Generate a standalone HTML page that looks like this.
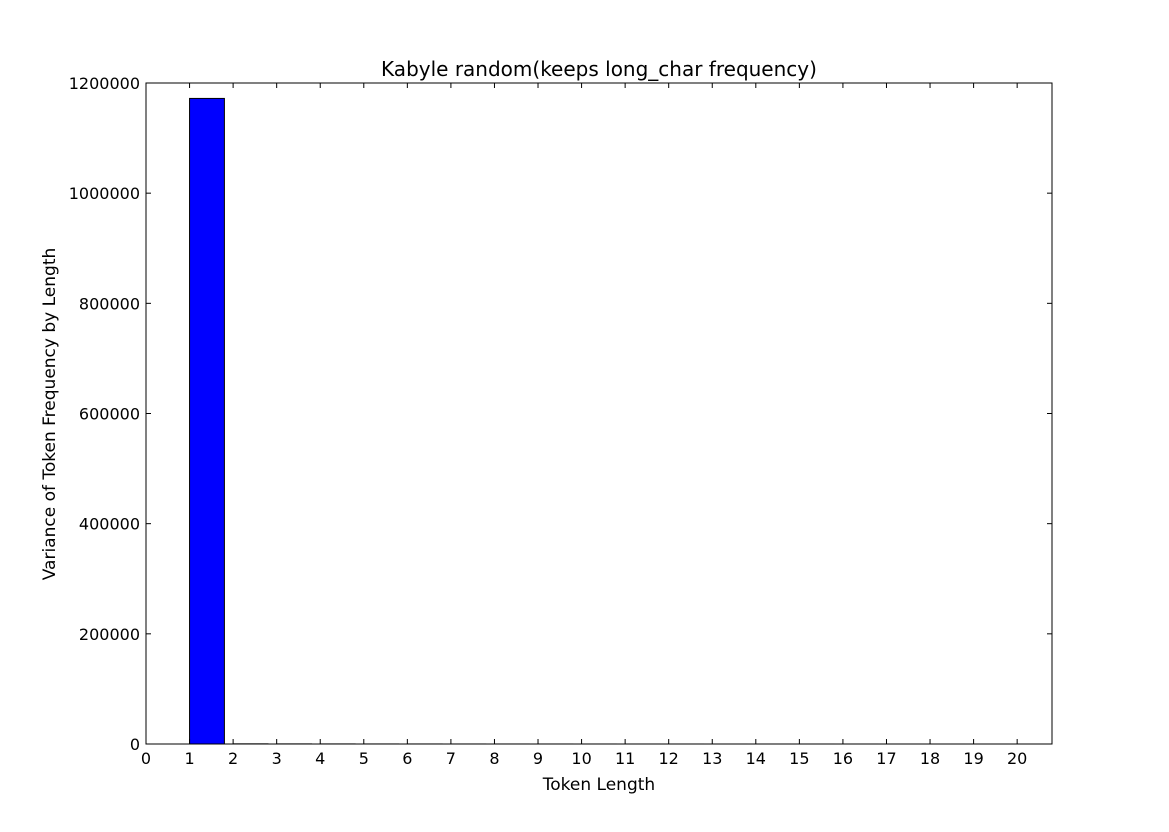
<!DOCTYPE html>
<html><head><meta charset="utf-8"><style>
body{margin:0;background:#fff;}
svg text{font-family:"DejaVu Sans","Liberation Sans",sans-serif;fill:#000;}
</style></head><body>
<svg id="chart" width="1169" height="827" xmlns="http://www.w3.org/2000/svg">
<rect width="1169" height="827" fill="#fff"/>
<g id="bars"></g>
<g id="axes"></g>
<text x="599" y="76" font-size="20" text-anchor="middle">Kabyle random(keeps long_char frequency)</text>
<text x="599" y="790" font-size="17" text-anchor="middle">Token Length</text>
<text x="0" y="0" font-size="17" text-anchor="middle" transform="translate(55,414) rotate(-90)">Variance of Token Frequency by Length</text>
</svg>
<script>
const categories=[1,2,3,4,5,6,7,8,9,10,11,12,13,14,15,16,17,18,19,20];
const values=[1172000,300,200,150,100,80,60,50,40,30,20,15,10,8,6,5,4,3,2,1];
const xTicks=[0,1,2,3,4,5,6,7,8,9,10,11,12,13,14,15,16,17,18,19,20];
const yTicks=[0,200000,400000,600000,800000,1000000,1200000];
const L=146,R=1052,T=83,B=744,xMax=20.8,yMax=1200000,barW=0.8;
const ns="http://www.w3.org/2000/svg";
const xs=v=>L+(v/xMax)*(R-L);
const ys=v=>B-(v/yMax)*(B-T);
const bars=document.getElementById('bars'),axes=document.getElementById('axes');
function mk(t,a,p){const e=document.createElementNS(ns,t);for(const k in a)e.setAttribute(k,a[k]);p.appendChild(e);return e;}
categories.forEach((c,i)=>{
 const y=ys(values[i]);
 const r=mk('rect',{x:xs(c),y:y,width:xs(c+barW)-xs(c),height:B-y,fill:'#0000ff',stroke:'#000','stroke-width':1},bars);
 
 
});
const fr=mk('rect',{x:L,y:T,width:R-L,height:B-T,fill:'none',stroke:'#000','stroke-width':1},axes);


xTicks.forEach(v=>{
 const x=xs(v);
 mk('line',{x1:x,x2:x,y1:B,y2:B-5,stroke:'#000'},axes);
 mk('line',{x1:x,x2:x,y1:T,y2:T+5,stroke:'#000'},axes);
 const t=mk('text',{x:x,y:B+20,'font-size':16,'text-anchor':'middle'},axes);
 t.textContent=v;
 
 
});
yTicks.forEach(v=>{
 const y=ys(v);
 mk('line',{x1:L,x2:L+5,y1:y,y2:y,stroke:'#000'},axes);
 mk('line',{x1:R,x2:R-5,y1:y,y2:y,stroke:'#000'},axes);
 const t=mk('text',{x:L-6,y:y+6,'font-size':16,'text-anchor':'end'},axes);
 t.textContent=v;
 
 
});
</script>
</body></html>
